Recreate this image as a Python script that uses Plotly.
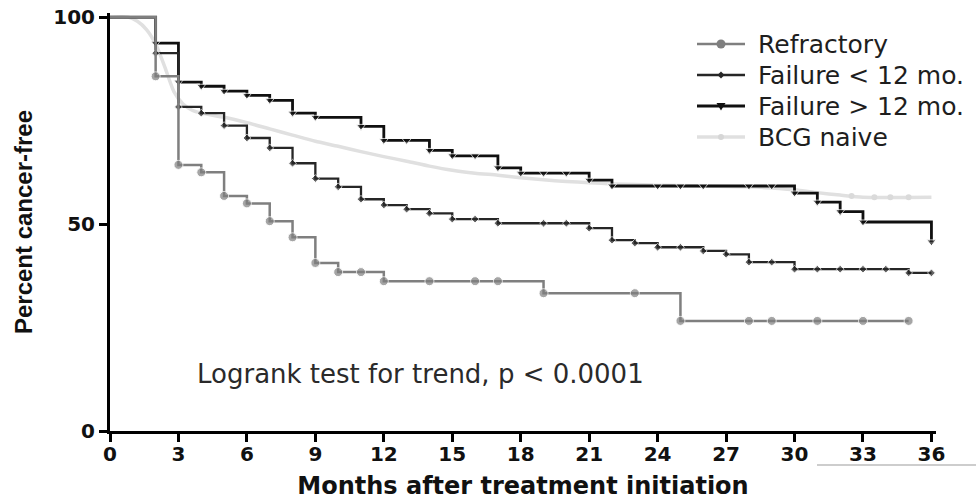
import plotly.graph_objects as go

# ---- data ----
months_ticks = list(range(0, 37, 3))
pct_ticks = [0, 50, 100]

refr_t = [0, 2, 3, 4, 5, 6, 7, 8, 9, 10, 11, 12, 14, 16, 17, 19, 23, 25, 28, 29, 31, 33, 35]
refr_s = [100, 85.7, 64.3, 62.5, 56.8, 55.0, 50.7, 46.8, 40.6, 38.4, 38.4, 36.2, 36.2, 36.2, 36.2, 33.3, 33.3, 26.6, 26.6, 26.6, 26.6, 26.6, 26.6]

f_lt12_t = [0, 2, 3, 4, 5, 6, 7, 8, 9, 10, 11, 12, 13, 14, 15, 16, 17, 19, 20, 21, 22, 23, 24, 25, 26, 27, 28, 29, 30, 31, 32, 33, 34, 35, 36]
f_lt12_s = [100, 91.3, 78.3, 76.8, 73.8, 70.8, 68.4, 64.7, 61.0, 59.0, 56.0, 54.6, 53.6, 52.6, 51.2, 51.2, 50.2, 50.2, 50.2, 49.0, 46.1, 45.4, 44.4, 44.4, 43.5, 42.7, 40.8, 40.8, 39.1, 39.1, 39.1, 39.1, 39.1, 38.2, 38.2]

f_gt12_t = [0, 2, 3, 4, 5, 6, 7, 8, 9, 11, 12, 13, 14, 15, 16, 17, 18, 19, 20, 21, 22, 24, 25, 26, 28, 29, 30, 31, 32, 33, 36]
f_gt12_s = [100, 93.7, 84.3, 83.3, 82.1, 81.1, 79.9, 76.8, 75.8, 73.6, 70.2, 70.2, 67.8, 66.5, 66.5, 63.6, 62.3, 62.3, 62.3, 60.6, 59.2, 59.2, 59.2, 59.2, 59.2, 59.2, 57.5, 55.3, 53.0, 50.5, 45.7]

bcg_t = [0, 0.8, 1.2, 1.6, 2.0, 2.4, 2.8, 3.2, 3.6, 4, 5, 6, 7, 8, 9, 10, 11, 12, 13, 14, 15, 16, 17, 18, 19, 20, 21, 22, 24, 26, 28, 30, 31, 32, 33, 36]
bcg_s = [100, 100, 99, 97, 93.5, 88, 82, 79, 77.5, 76.8, 75.8, 74.5, 73, 71.5, 70, 68.8, 67.5, 66.3, 65.2, 64, 63, 62.3, 61.8, 61.2, 60.7, 60.3, 60, 59.7, 59.4, 59.2, 59, 58.3, 57.6, 57, 56.5, 56.5]
bcg_cens_t = [32.5, 33.5, 34.2, 35]
bcg_cens_s = [56.8, 56.5, 56.5, 56.5]

series_names = ["Refractory", "Failure < 12 mo.", "Failure > 12 mo.", "BCG naive"]
series_colors = ["#7f7f7f", "#262626", "#101010", "#e0e0e0"]

FONT = "DejaVu Sans"

# plot-area geometry (pixels)
L, R, T, B = 110, 40, 13, 69
PW, PH = 976 - L - R, 500 - T - B


def px_x(px):
    return (px - L) / PW


def px_y(py):
    return (500 - B - py) / PH


def sizes(n, s):
    return [0] + [s] * (n - 1)


fig = go.Figure()

fig.add_trace(go.Scatter(
    x=bcg_t, y=bcg_s, name=series_names[3], mode="lines",
    line=dict(shape="spline", smoothing=0.6, color=series_colors[3], width=3.5),
    showlegend=False,
))
fig.add_trace(go.Scatter(
    x=bcg_cens_t, y=bcg_cens_s, name=series_names[3], mode="markers",
    marker=dict(symbol="circle", size=6, color="#dadada"),
    showlegend=False, cliponaxis=False,
))
fig.add_trace(go.Scatter(
    x=f_gt12_t, y=f_gt12_s, name=series_names[2], mode="lines+markers",
    line=dict(shape="hv", color=series_colors[2], width=2.8),
    marker=dict(symbol="triangle-down", size=sizes(len(f_gt12_t), 8), color=series_colors[2]),
    cliponaxis=False, showlegend=False,
))
fig.add_trace(go.Scatter(
    x=f_lt12_t, y=f_lt12_s, name=series_names[1], mode="lines+markers",
    line=dict(shape="hv", color=series_colors[1], width=2.3),
    marker=dict(symbol="diamond", size=sizes(len(f_lt12_t), 6), color=series_colors[1]),
    cliponaxis=False, showlegend=False,
))
fig.add_trace(go.Scatter(
    x=refr_t, y=refr_s, name=series_names[0], mode="lines+markers",
    line=dict(shape="hv", color=series_colors[0], width=2.5),
    marker=dict(symbol="circle", size=sizes(len(refr_t), 9), color=series_colors[0]),
    cliponaxis=False, showlegend=False,
))

# ---- legend (drawn as shapes + text to match the original spacing) ----
leg_rows_y = [44, 75, 106, 137]
leg_line_w = [2.5, 2.3, 2.8, 3.5]
leg_marker = [
    ("circle", 4.5),
    ("M-3.5,0 L0,3.5 L3.5,0 L0,-3.5 Z", None),
    ("M-4.5,3 L4.5,3 L0,-4.5 Z", None),
    ("circle", 3),
]
for i, name in enumerate(series_names):
    yc = px_y(leg_rows_y[i])
    fig.add_shape(type="line", xref="paper", yref="paper",
                  x0=px_x(697), x1=px_x(745), y0=yc, y1=yc,
                  line=dict(color=series_colors[i], width=leg_line_w[i]))
    kind, r = leg_marker[i]
    if kind == "circle":
        fig.add_shape(type="circle", xref="paper", yref="paper",
                      xsizemode="pixel", ysizemode="pixel",
                      xanchor=px_x(721), yanchor=yc,
                      x0=-r, x1=r, y0=-r, y1=r,
                      fillcolor=series_colors[i] if i != 3 else "#d6d6d6",
                      line=dict(width=0))
    else:
        fig.add_shape(type="path", xref="paper", yref="paper",
                      xsizemode="pixel", ysizemode="pixel",
                      xanchor=px_x(721), yanchor=yc, path=kind,
                      fillcolor=series_colors[i], line=dict(width=0))
    fig.add_annotation(x=px_x(756), y=yc, xref="paper", yref="paper",
                       xanchor="left", yanchor="middle", showarrow=False,
                       text=name, font=dict(family=FONT, size=25, color="#1e1e1e"))

fig.add_annotation(
    x=3.72, y=13.8, xref="x", yref="y", xanchor="left", yanchor="middle",
    text="Logrank test for trend, p < 0.0001", showarrow=False,
    font=dict(family=FONT, size=26, color="#2a2a2a"),
)

# stray grey rule present at the bottom right of the reference image
fig.add_shape(type="line", xref="paper", yref="paper",
              x0=px_x(817), x1=px_x(976), y0=px_y(465), y1=px_y(465),
              line=dict(color="#bdbdbd", width=1.5))

fig.update_layout(
    width=976, height=500,
    margin=dict(l=L, r=R, t=T, b=B),
    paper_bgcolor="white", plot_bgcolor="white",
    showlegend=False,
    xaxis=dict(
        range=[0, 36.2], tickmode="array", tickvals=months_ticks,
        ticktext=[str(v) for v in months_ticks], automargin=False,
        showline=True, linecolor="black", linewidth=3,
        ticks="outside", ticklen=8, tickwidth=2.5, tickcolor="black",
        ticklabelstandoff=-5,
        showgrid=False, zeroline=False,
        tickfont=dict(family=FONT, size=20, color="#111111", weight="bold"),
        title=dict(text="Months after treatment initiation", standoff=15,
                   font=dict(family=FONT, size=24, color="#111111", weight="bold")),
    ),
    yaxis=dict(
        range=[0, 101], tickmode="array", tickvals=pct_ticks,
        ticktext=[str(v) for v in pct_ticks], automargin=False,
        showline=True, linecolor="black", linewidth=3,
        ticks="outside", ticklen=8, tickwidth=2.5, tickcolor="black",
        showgrid=False, zeroline=False,
        tickfont=dict(family=FONT, size=20, color="#111111", weight="bold"),
        title=dict(text="Percent cancer-free", standoff=14,
                   font=dict(family="Liberation Sans Narrow, Arial Narrow, Liberation Sans",
                             size=24, color="#111111", weight="bold")),
    ),
)

fig.write_html("out.html")
